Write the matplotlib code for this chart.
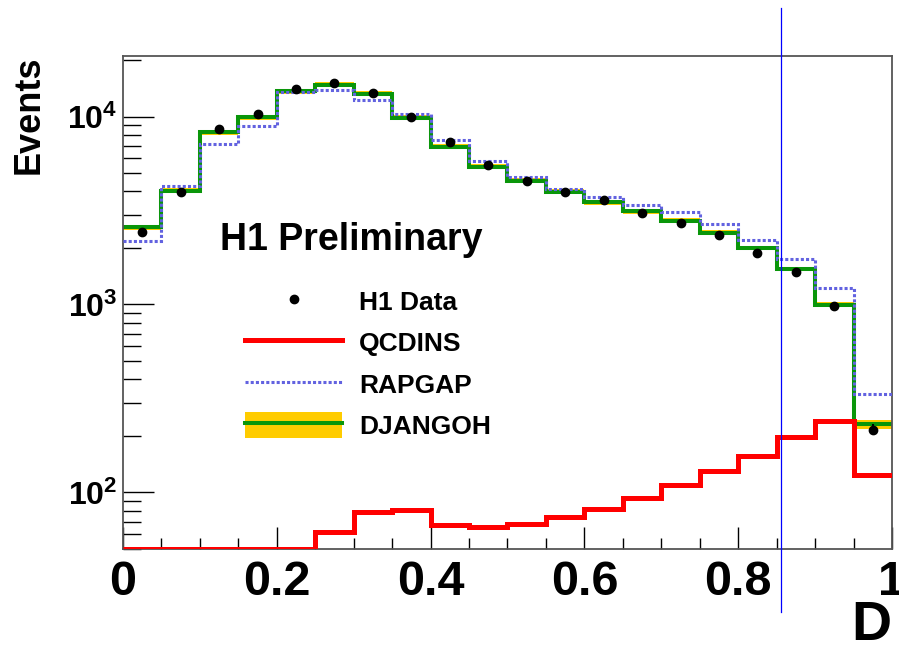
import numpy as np
import matplotlib
matplotlib.use("Agg")
import matplotlib.pyplot as plt
from matplotlib.lines import Line2D
from matplotlib.patches import Patch

plt.rcParams['font.family'] = ['Liberation Sans', 'DejaVu Sans']
plt.rcParams['font.weight'] = 'bold'
plt.rcParams['mathtext.fontset'] = 'custom'
plt.rcParams['mathtext.rm'] = 'Liberation Sans:bold'
plt.rcParams['mathtext.bf'] = 'Liberation Sans:bold'
plt.rcParams['mathtext.it'] = 'Liberation Sans:bold'

# 20 bins in D, width 0.05
edges = np.linspace(0, 1, 21)
centers = 0.5 * (edges[:-1] + edges[1:])

h1_data = [2420, 3980, 8550, 10350, 14100, 15150, 13400, 9900, 7340, 5500,
           4530, 3980, 3580, 3070, 2720, 2350, 1890, 1480, 985, 216]
h1_err = [50, 65, 95, 100, 120, 125, 115, 100, 85, 75,
          68, 64, 60, 55, 52, 48, 43, 38, 31, 15]
djangoh = [2580, 4040, 8250, 9920, 13640, 14800, 13210, 9840, 6900, 5420,
           4550, 3980, 3500, 3125, 2790, 2410, 2000, 1545, 995, 230]
djangoh_relerr = [0.03] * 19 + [0.05]
rapgap = [2190, 4260, 7160, 8880, 13460, 13920, 12320, 10330, 7460, 5800,
          4780, 4100, 3720, 3390, 3090, 2690, 2210, 1750, 1220, 335]
qcdins = [50, 50, 50, 50, 50, 61.8, 79, 80.5, 67, 65.7,
          68.3, 74, 82, 93, 110, 130, 157, 196, 239, 124]
d_cut = 0.856

col_yellow = '#ffcc00'
col_green = '#0a960a'
col_blue = '#6262e0'
col_red = '#ff0000'

fig = plt.figure(figsize=(8.99, 6.49), dpi=100)
ax = fig.add_axes([0.1368, 0.1541, 0.9922 - 0.1368, 0.9137 - 0.1541])

dj = np.array(djangoh)
rel = np.array(djangoh_relerr)
ax.stairs(dj * (1 + rel), edges, baseline=dj * (1 - rel), fill=True,
          color=col_yellow, lw=0, zorder=1)
ax.stairs(djangoh, edges, baseline=None, color=col_green, lw=2.9, zorder=2)
ax.stairs(rapgap, edges, baseline=None, color=col_blue, lw=2.2,
          linestyle=(0, (1.0, 0.7)), zorder=3)
ax.stairs(qcdins, edges, baseline=None, color=col_red, lw=3.6, zorder=4)
ax.errorbar(centers, h1_data, yerr=h1_err, fmt='o', color='black', ms=6,
            elinewidth=1.5, capsize=0, zorder=5)

ax.axvline(d_cut, ymin=-0.128, ymax=1.097, clip_on=False, color='blue',
           lw=0.9, zorder=6)

ax.set_yscale('log')
ax.set_xlim(0, 1)
ax.set_ylim(50, 2.1e4)

ax.set_xticks(np.arange(0, 1.01, 0.2))
ax.set_xticklabels(['0', '0.2', '0.4', '0.6', '0.8', '1'])
ax.set_xticks(np.arange(0, 1.001, 0.05), minor=True)
ax.tick_params(axis='x', which='major', direction='in', length=16, width=1,
               labelsize=35, pad=8, top=False)
ax.tick_params(axis='x', which='minor', direction='in', length=8, width=1,
               top=False)
ax.tick_params(axis='y', which='major', direction='in', length=22, width=1,
               labelsize=23, pad=4, right=False)
ax.tick_params(axis='y', which='minor', direction='in', length=13, width=1,
               right=False)
for s in ax.spines.values():
    s.set_color('#555555')
    s.set_linewidth(1.3)

fig.text(0.013, 0.823, 'Events', rotation=90, ha='left', va='center',
         fontsize=26, fontweight='bold')
fig.text(0.992, 0.036, 'D', ha='right', va='center', fontsize=40,
         fontweight='bold')

ax.text(0.126, 0.627, 'H1 Preliminary', transform=ax.transAxes,
        ha='left', va='center', fontsize=27, fontweight='bold')

handles = [
    Line2D([], [], marker='o', color='black', ls='none', ms=6),
    Line2D([], [], color=col_red, lw=3.6),
    Line2D([], [], color=col_blue, lw=2.2, linestyle=(0, (1.0, 0.7))),
    (Patch(facecolor=col_yellow, edgecolor='none'),
     Line2D([], [], color=col_green, lw=2.9)),
]
labels = ['H1 Data', 'QCDINS', 'RAPGAP', 'DJANGOH']
leg = ax.legend(handles, labels, loc='upper left',
                bbox_to_anchor=(0.1415, 0.557), frameon=False, fontsize=19,
                handlelength=3.68, handleheight=1.15, handletextpad=0.65,
                labelspacing=0.55, borderpad=0)

fig.savefig('out.png', dpi=100)
